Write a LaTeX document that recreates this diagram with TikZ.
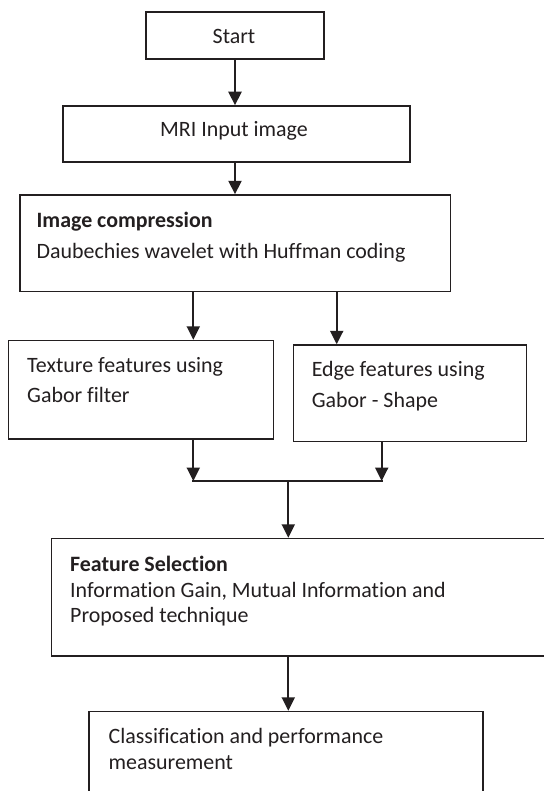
\documentclass[tikz,border=0pt]{standalone}
\usepackage{fontspec}
\setmainfont[Ligatures={NoCommon}]{Carlito}
\usetikzlibrary{arrows.meta}
\definecolor{ink}{RGB}{35,31,32}
\begin{document}
\begin{tikzpicture}[x=1bp,y=-1bp,
  box/.style={draw=ink,line width=1.5bp,inner sep=0pt,fill=white},
  txt/.style={inner sep=0pt,anchor=base west,text=ink,font=\fontsize{22}{26}\selectfont},
  ctxt/.style={inner sep=0pt,anchor=base,text=ink,font=\fontsize{22}{26}\selectfont},
  arr/.style={draw=ink,line width=2.2bp,-{Triangle[width=13bp,length=13.5bp]}},
  ln/.style={draw=ink,line width=2.2bp}]
\clip (0,0) rectangle (544,791);
\fill[white] (0,0) rectangle (544,791);
% boxes
\node[box,minimum width=178bp,minimum height=47bp] (start) at (235,35.5) {};
\node[box,minimum width=347bp,minimum height=56bp] (mri) at (236.4,134) {};
\node[box,minimum width=430.4bp,minimum height=96.5bp] (comp) at (235.3,243.25) {};
\node[box,minimum width=264.6bp,minimum height=98.5bp] (tex) at (141,389.75) {};
\node[box,minimum width=233.2bp,minimum height=96.5bp] (edge) at (409.9,393.25) {};
\node[box,minimum width=508.5bp,minimum height=117.5bp] (feat) at (305.75,597.25) {};
\node[box,minimum width=394bp,minimum height=98.5bp] (cls) at (286,760.75) {};
% texts
\node[ctxt] (tstart) at (234,43.3) {Start};
\node[ctxt] (tmri) at (234,136.7) {MRI Input image};
\node[txt] (tcomp1) at (36.4,227.3) {\bfseries Image compression};
\node[txt] (tcomp2) at (36.4,258.3) {Daubechies wavelet with Huffman coding};
\node[txt] (ttex1) at (27,372.7) {Texture features using};
\node[txt] (ttex2) at (27,402.7) {Gabor filter};
\node[txt] (tedge1) at (311.6,376) {Edge features using};
\node[txt] (tedge2) at (311.6,407.7) {Gabor - Shape};
\node[txt] (tfeat1) at (70,571.7) {\bfseries Feature Selection};
\node[txt] (tfeat2) at (70,597) {Information Gain, Mutual Information and};
\node[txt] (tfeat3) at (70,622.5) {Proposed technique};
\node[txt] (tcls1) at (108.5,743.3) {Classification and performance};
\node[txt] (tcls2) at (108.5,769.5) {measurement};
% connector helpers
\coordinate (mid) at (235,0);
\coordinate (cL) at (193.3,0);
\coordinate (cR) at (336.7,0);
\coordinate (jL) at (193.3,481);
\coordinate (jR) at (381.7,481);
\coordinate (jC) at (288.3,481);
% connectors
\draw[arr] (start.south -| mid) -- (mri.north -| mid);
\draw[arr] (mri.south -| mid) -- (comp.north -| mid);
\draw[arr] (comp.south -| cL) -- (tex.north -| cL);
\draw[arr] (comp.south -| cR) -- (edge.north -| cR);
\draw[arr] (tex.south -| jL) -- (jL);
\draw[arr] (edge.south -| jR) -- (jR);
\draw[ln,line cap=rect] (jL) -- (jR);
\draw[arr] (jC) -- (jC |- feat.north);
\draw[arr] (feat.south -| jC) -- (cls.north -| jC);
\end{tikzpicture}
\end{document}
